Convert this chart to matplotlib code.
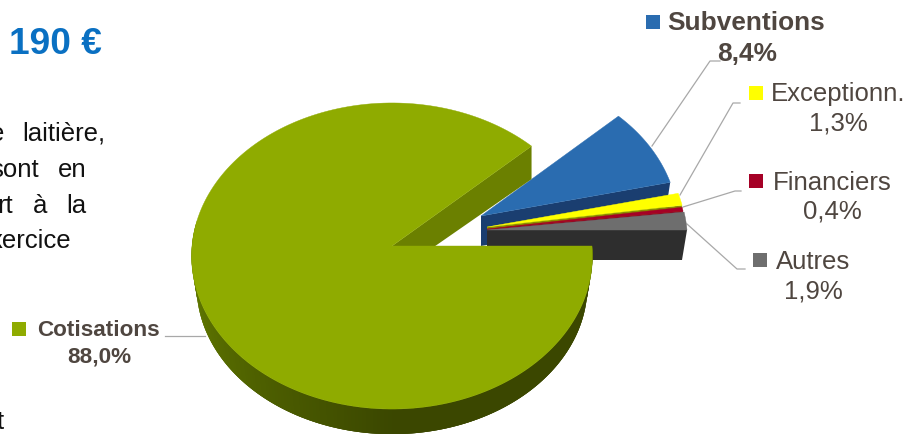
import numpy as np
import matplotlib
matplotlib.use("Agg")
import matplotlib.pyplot as plt
from matplotlib.patches import Polygon
from matplotlib.colors import to_rgb

plt.rcParams['font.family'] = ['Liberation Sans', 'DejaVu Sans']

# revenue shares, counter-clockwise from the horizontal
labels = ['Autres', 'Financiers', 'Exceptionn.', 'Subventions', 'Cotisations']
shares = [1.9, 0.4, 1.3, 8.4, 88.0]
share_text = ['1,9%', '0,4%', '1,3%', '8,4%', '88,0%']

top_colors = ['#6e6e6e', '#a50026', '#ffff00', '#2a6cb0', '#8fab00']
wall_colors = ['#2e2e2e', '#8c0020', '#8a8a00', '#1a3e70', '#6b8000']
key_colors = ['#6e6e6e', '#a50026', '#ffff00', '#2a6cb0', '#8fab00']

# slice centres and radii on the canvas (pixels)
center_x = [487, 487, 487, 481, 392]
center_y = [230, 229, 227, 216, 246]
radius_x = [200, 199, 199, 197, 200]
radius_y = 152.4
depth = 30
persp = 0.0654

TEXT_COL = '#4f4640'
LINE_COL = '#a8a8a8'


def project(cx, cy, bx, ay, t):
    w = 1 + persp * np.sin(t)
    return cx + bx * np.cos(t) / w, cy - ay * np.sin(t) / w


def rim(i, t, lower=False):
    if lower:
        return project(center_x[i], center_y[i] + depth, radius_x[i] * 0.975,
                       radius_y * 0.97, t)
    return project(center_x[i], center_y[i], radius_x[i], radius_y, t)


fig = plt.figure(figsize=(9.2, 4.34), dpi=100)
ax = fig.add_axes([0, 0, 1, 1])
ax.set_xlim(0, 920)
ax.set_ylim(434, 0)
ax.axis('off')

edges = np.radians(np.concatenate([[0], np.cumsum(shares)]) * 3.6)

# leader lines go under the slices
leaders = [
    ([687, 737, 745], [224, 269, 269]),
    ([683, 735, 741], [207, 191, 191]),
    ([680, 733, 740], [195, 103, 103]),
    ([652, 710, 720], [146, 61, 61]),
    ([165, 205], [336, 336]),
]
for lx, ly in leaders:
    ax.plot(lx, ly, color=LINE_COL, lw=0.9, zorder=1)

# back to front: blue, yellow, red, grey, green
order = [3, 2, 1, 0, 4]
for i in order:
    t0, t1 = edges[i], edges[i + 1]
    ts = np.linspace(t0, t1, 200)
    cx, cy = center_x[i], center_y[i]
    z = 2 + order.index(i)

    ux, uy = rim(i, t0)
    lx, ly = rim(i, t0, True)
    if i == 4:
        # inner wall of the opening drops straight down from the rim
        lx = ux
        # outer wall, shaded from the left round to the front
        dark = np.array(to_rgb('#3b4700'))
        light = np.array(to_rgb('#6a8500'))
        seg = np.radians(np.arange(170, 360, 1.0))
        for a in seg:
            f = np.clip((np.degrees(a) - 170) / 100, 0, 1)
            col = light * (1 - f) + dark * f
            tt = np.linspace(a, min(a + np.radians(3), 2 * np.pi), 5)
            wx, wy = rim(i, tt)
            vx, vy = rim(i, tt, True)
            pts = np.r_[np.c_[wx, wy], np.c_[vx, vy][::-1]]
            ax.add_patch(Polygon(pts, fc=col, ec='none', zorder=z))
    ax.add_patch(Polygon([(cx, cy), (ux, uy), (lx, ly), (cx, cy + depth)],
                         fc=wall_colors[i], ec='none', zorder=z))

    x, y = rim(i, ts)
    pts = np.r_[[(cx, cy)], np.c_[x, y]]
    ax.add_patch(Polygon(pts, fc=top_colors[i], ec=top_colors[i], lw=0.3, zorder=z + 0.5))

# slice names and percentages
name_pos = [(813, 262), (832, 183), (838, 94), (746, 23), (98, 330)]
value_pos = [(813, 292), (832, 212), (838, 124), (747, 54), (99, 357)]
key_pos = [(760.5, 259.5), (756.5, 181), (756, 93), (653, 21.5), (19.5, 328.5)]
sizes = [18.5, 18.5, 18.5, 18.9, 16.2]
for i in range(len(labels)):
    w = 'bold' if i >= 3 else 'normal'
    ax.text(*name_pos[i], labels[i], ha='center', va='center', fontsize=sizes[i],
            fontweight=w, color=TEXT_COL, zorder=10)
    ax.text(*value_pos[i], share_text[i], ha='center', va='center', fontsize=sizes[i],
            fontweight=w, color=TEXT_COL, zorder=10)
    ax.scatter(*key_pos[i], marker='s', s=88, color=key_colors[i], linewidths=0, zorder=10)

# text running in from the left of the page
ax.text(102, 44, '190 €', ha='right', va='center', fontsize=26.7, fontweight='bold',
        color='#0a70c2', zorder=10)
body = [
    (4, 134, 'e', 'right'), (22, 134, 'laitière,', 'left'),
    (39, 170, 'sont', 'right'), (58, 170, 'en', 'left'),
    (13, 206, 'rt', 'right'), (33, 206, 'à', 'left'), (66, 206, 'la', 'left'),
    (71, 241, 'xercice', 'right'),
    (4, 422, 't', 'right'),
]
for bx, by, word, al in body:
    ax.text(bx, by, word, ha=al, va='center', fontsize=18.5, color='#111111', zorder=10)

fig.savefig('out.png', dpi=100)
